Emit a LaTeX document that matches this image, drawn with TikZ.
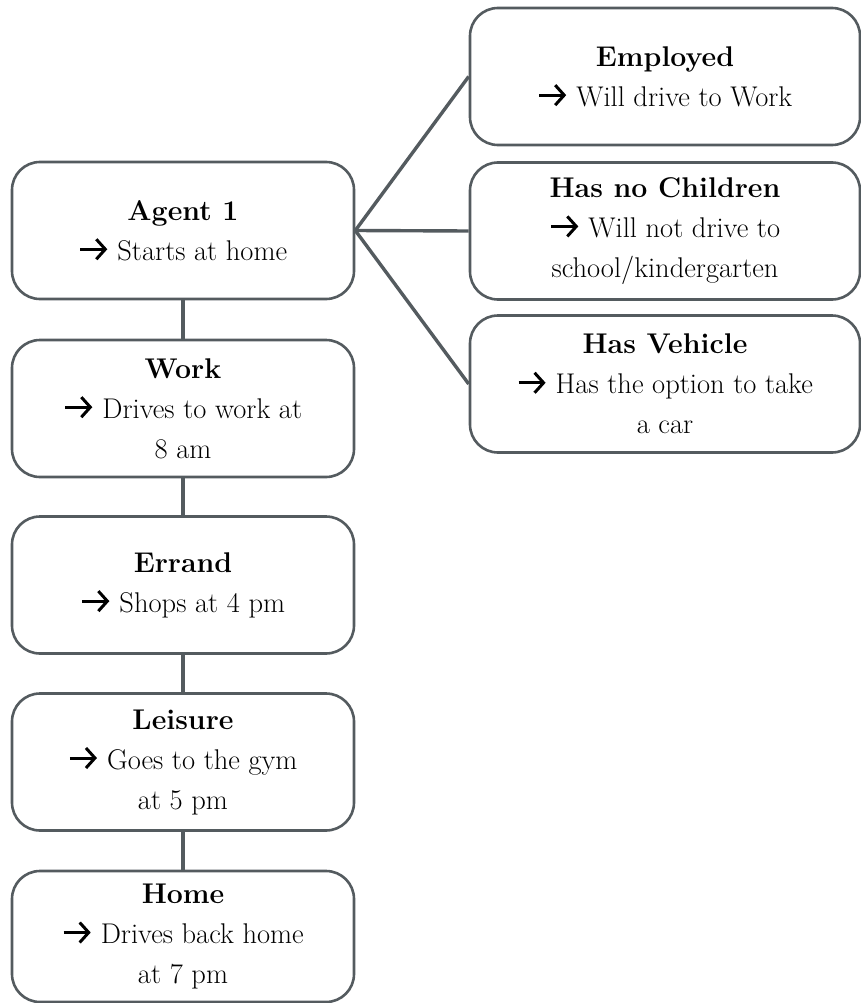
\documentclass[tikz,border=0pt]{standalone}
\usetikzlibrary{arrows.meta}
\definecolor{edge}{RGB}{84,91,95}
% heavy arrow glyph used before each description
\newcommand{\arr}{\tikz[baseline=0pt]\draw[line width=3pt,
  -{Straight Barb[length=9pt,width=20pt,line width=3pt]}] (0pt,11pt) -- (27pt,11pt);\ }
\begin{document}
\begin{tikzpicture}[x=1pt,y=-1pt,
  box/.style={draw=edge,line width=2.6pt,rounded corners=28pt,align=center,
    inner sep=0pt,font=\fontsize{28.5}{40}\selectfont},
  leftbox/.style={box,minimum width=342pt,minimum height=137pt},
  rightbox/.style={box,minimum width=390pt,minimum height=137pt},
  link/.style={draw=edge,line width=3.4pt}]
\useasboundingbox (0,0) rectangle (861,1003);

% activity chain of the agent
\node[leftbox] (agent)   at (183,230.5) {\textbf{Agent 1}\\\arr Starts at home};
\node[leftbox] (work)    at (183,408.5) {\textbf{Work}\\\arr Drives to work at\\8 am};
\node[leftbox] (errand)  at (183,585)   {\textbf{Errand}\\\arr Shops at 4 pm};
\node[leftbox] (leisure) at (183,762)   {\textbf{Leisure}\\\arr Goes to the gym\\at 5 pm};
\node[leftbox,minimum height=131pt] (home) at (183,936.5) {\textbf{Home}\\\arr Drives back home\\at 7 pm};

% attributes of the agent
\node[rightbox] (employed) at (665,76.5) {\textbf{Employed}\\\arr Will drive to Work};
\node[rightbox] (children) at (665,231)  {\textbf{Has no Children}\\\arr Will not drive to\\school/kindergarten};
\node[rightbox] (vehicle)  at (665,384)  {\textbf{Has Vehicle}\\\arr Has the option to take\\a car};

% connectors
\draw[link] (agent.south) -- (work.north);
\draw[link] (work.south) -- (errand.north);
\draw[link] (errand.south) -- (leisure.north);
\draw[link] (leisure.south) -- (home.north);
\draw[link] (employed.west) -- (agent.east) -- (vehicle.west);
\draw[link] (agent.east) -- (children.west);
\end{tikzpicture}
\end{document}
